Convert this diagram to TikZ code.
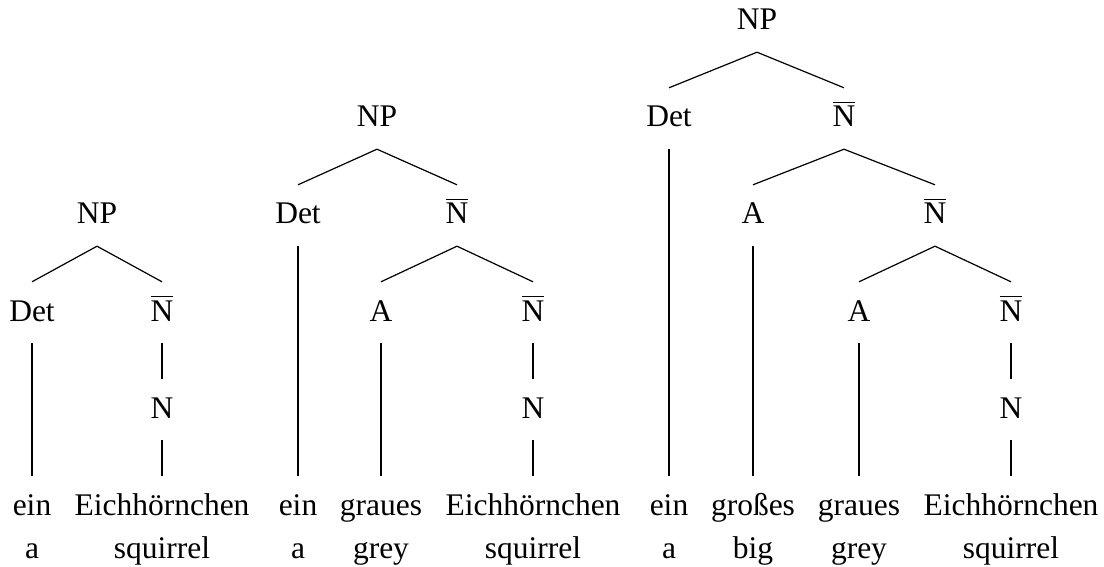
\documentclass[tikz,border=0pt]{standalone}
\usepackage{fontspec}
\setmainfont{Liberation Serif}
\newcommand{\barN}{\vbox{\hrule height 1.3pt\kern 3pt\hbox{N}}}
\begin{document}
\begin{tikzpicture}[x=1pt,y=-1pt,
  lbl/.style={anchor=base, inner xsep=0pt, inner ysep=17pt, text height=22pt, text depth=5pt, font=\fontsize{31.5}{38}\selectfont},
  gloss/.style={anchor=base, inner sep=0pt, font=\fontsize{31.5}{38}\selectfont},
  edge/.style={line width=1.2pt}]
\useasboundingbox (0,0) rectangle (1104,567);
% Tree 1
\node[lbl] (aNP) at (97,224) {NP};
\node[lbl] (aDet) at (32,321) {Det};
\node[lbl] (aNb) at (162,321) {\barN};
\node[lbl] (aN) at (162,418) {N};
\node[lbl] (aw1) at (32,515) {ein};
\node[lbl] (aw2) at (162,515) {Eichhörnchen};
\node[gloss] (ag1) at (32,558) {a};
\node[gloss] (ag2) at (162,558) {squirrel};
\draw[edge] (aNP.south) -- (aDet.north);
\draw[edge] (aNP.south) -- (aNb.north);
\draw[edge] (aDet.south) -- (aw1.north);
\draw[edge] (aNb.south) -- (aN.north);
\draw[edge] (aN.south) -- (aw2.north);
% Tree 2
\node[lbl] (bNP) at (377,127) {NP};
\node[lbl] (bDet) at (298,224) {Det};
\node[lbl] (bNb) at (457,224) {\barN};
\node[lbl] (bA) at (381,321) {A};
\node[lbl] (bNbb) at (533,321) {\barN};
\node[lbl] (bN) at (533,418) {N};
\node[lbl] (bw1) at (298,515) {ein};
\node[lbl] (bw2) at (381,515) {graues};
\node[lbl] (bw3) at (533,515) {Eichhörnchen};
\node[gloss] (bg1) at (298,558) {a};
\node[gloss] (bg2) at (381,558) {grey};
\node[gloss] (bg3) at (533,558) {squirrel};
\draw[edge] (bNP.south) -- (bDet.north);
\draw[edge] (bNP.south) -- (bNb.north);
\draw[edge] (bNb.south) -- (bA.north);
\draw[edge] (bNb.south) -- (bNbb.north);
\draw[edge] (bDet.south) -- (bw1.north);
\draw[edge] (bA.south) -- (bw2.north);
\draw[edge] (bNbb.south) -- (bN.north);
\draw[edge] (bN.south) -- (bw3.north);
% Tree 3
\node[lbl] (cNP) at (757,30) {NP};
\node[lbl] (cDet) at (669,127) {Det};
\node[lbl] (cNb) at (844,127) {\barN};
\node[lbl] (cA) at (753,224) {A};
\node[lbl] (cNbb) at (935,224) {\barN};
\node[lbl] (cAA) at (859,321) {A};
\node[lbl] (cNbbb) at (1011,321) {\barN};
\node[lbl] (cN) at (1011,418) {N};
\node[lbl] (cw1) at (669,515) {ein};
\node[lbl] (cw2) at (753,515) {großes};
\node[lbl] (cw3) at (859,515) {graues};
\node[lbl] (cw4) at (1011,515) {Eichhörnchen};
\node[gloss] (cg1) at (669,558) {a};
\node[gloss] (cg2) at (753,558) {big};
\node[gloss] (cg3) at (859,558) {grey};
\node[gloss] (cg4) at (1011,558) {squirrel};
\draw[edge] (cNP.south) -- (cDet.north);
\draw[edge] (cNP.south) -- (cNb.north);
\draw[edge] (cNb.south) -- (cA.north);
\draw[edge] (cNb.south) -- (cNbb.north);
\draw[edge] (cNbb.south) -- (cAA.north);
\draw[edge] (cNbb.south) -- (cNbbb.north);
\draw[edge] (cDet.south) -- (cw1.north);
\draw[edge] (cA.south) -- (cw2.north);
\draw[edge] (cAA.south) -- (cw3.north);
\draw[edge] (cNbbb.south) -- (cN.north);
\draw[edge] (cN.south) -- (cw4.north);
\end{tikzpicture}
\end{document}
